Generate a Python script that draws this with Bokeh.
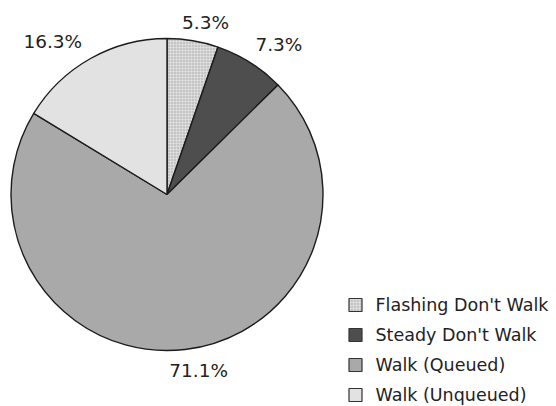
import math
from bokeh.plotting import figure
from bokeh.models import Range1d, ColumnDataSource
from bokeh.core.properties import value
from bokeh.embed import file_html
from bokeh.resources import INLINE

# ---- data ----
categories = ["Flashing Don't Walk", "Steady Don't Walk", "Walk (Queued)", "Walk (Unqueued)"]
percent = [5.3, 7.3, 71.1, 16.3]

# ---- styles ----
fill_colors = ["#c4c4c4", "#4e4e4e", "#a9a9a9", "#e2e2e2"]
hatch_patterns = ["+", " ", " ", " "]
label_dx = [9, 17, 11, -27]      # label nudges (px)
label_dy = [4, 1, -1, 2]

W, H = 556, 406
p = figure(width=W, height=H, output_backend="svg", toolbar_location=None,
           x_range=Range1d(0, W), y_range=Range1d(0, H), min_border=0,
           background_fill_color="white", border_fill_color="white")
p.axis.visible = False
p.grid.visible = False
p.outline_line_color = None

cx, cy, r = 166.5, 212, 156
total = sum(percent)
starts, ends, mids = [], [], []
acc = 0.0
for v in percent:
    a0 = math.pi / 2 - 2 * math.pi * acc / total
    acc += v
    a1 = math.pi / 2 - 2 * math.pi * acc / total
    starts.append(a0)
    ends.append(a1)
    mids.append((a0 + a1) / 2)

src = ColumnDataSource(dict(cat=categories, pct=percent, start=starts, end=ends,
                            color=fill_colors, hatch=hatch_patterns))
p.wedge(x=cx, y=cy, radius=r, start_angle="start", end_angle="end", direction="clock",
        fill_color="color", line_color="#1c1c1c", line_width=1.4,
        hatch_pattern="hatch", hatch_color="#eeeeee", hatch_alpha=0.6,
        hatch_scale=3, hatch_weight=0.8, source=src)

# percentage labels
R = 178
lab = ColumnDataSource(dict(
    x=[cx + R * math.cos(m) for m in mids],
    y=[cy + R * math.sin(m) for m in mids],
    t=[f"{v}%" for v in percent],
    dx=label_dx, dy=label_dy))
p.text(x="x", y="y", text="t", x_offset="dx", y_offset="dy", source=lab,
       text_align="center", text_baseline="middle",
       text_font=value("DejaVu Sans"), text_font_size="18.5px", text_color="#222222")

# legend (drawn manually)
leg_top = 101.5
row_gap = 30
leg_y = [leg_top - i * row_gap for i in range(len(categories))]
leg = ColumnDataSource(dict(x=[355] * len(categories), y=leg_y, tx=[375] * len(categories),
                            cat=categories, color=fill_colors, hatch=hatch_patterns))
p.rect(x="x", y="y", width=13, height=13, fill_color="color", line_color="#333333",
       line_width=1.2, hatch_pattern="hatch", hatch_color="#eeeeee", hatch_alpha=0.6,
       hatch_scale=3, hatch_weight=0.8, source=leg)
p.text(x="tx", y="y", text="cat", source=leg, text_align="left", text_baseline="middle",
       text_font=value("DejaVu Sans"), text_font_size="17.5px", text_color="#222222")

open("out.html", "w").write(file_html(p, INLINE))
